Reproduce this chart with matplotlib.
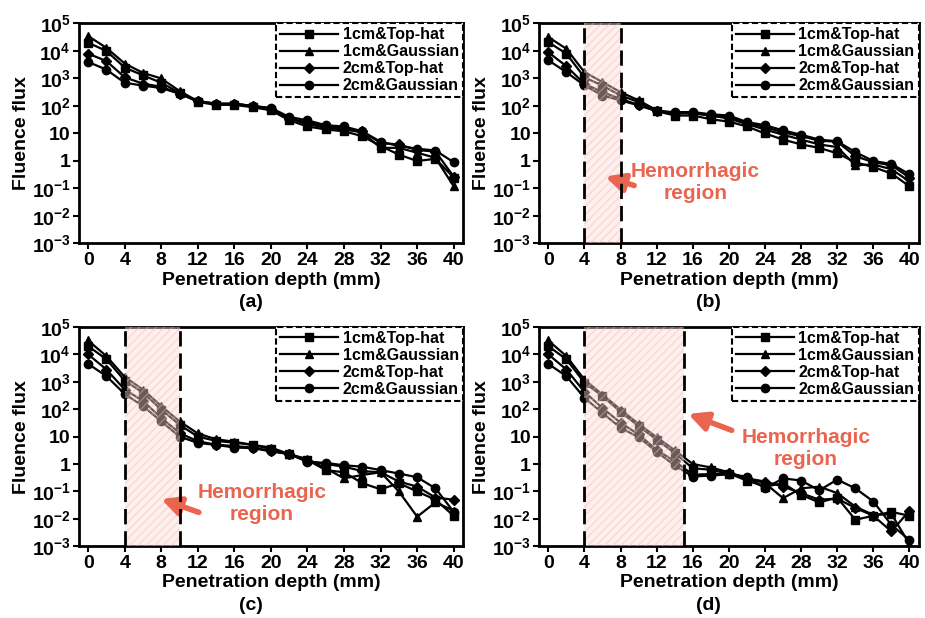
import matplotlib
matplotlib.use('Agg')
import matplotlib.pyplot as plt

plt.rcParams['font.family'] = ['Liberation Sans', 'DejaVu Sans']
plt.rcParams['font.weight'] = 'bold'
plt.rcParams['axes.labelweight'] = 'bold'
plt.rcParams['mathtext.fontset'] = 'custom'
plt.rcParams['mathtext.rm'] = 'Liberation Sans:bold'
plt.rcParams['mathtext.bf'] = 'Liberation Sans:bold'
plt.rcParams['mathtext.default'] = 'bf'
plt.rcParams['hatch.linewidth'] = 1.0

depth = list(range(0, 41, 2))
labels = ['1cm&Top-hat', '1cm&Gaussian', '2cm&Top-hat', '2cm&Gaussian']
markers = ['s', '^', 'D', 'o']
msizes = [5.5, 6, 4.8, 6]

# (a) no hemorrhage
a_th1 = [2e4, 1e4, 2.5e3, 1.3e3, 7e2, 3e2, 140, 110, 110, 90, 70, 30, 18, 14, 12, 8, 3.5, 1.7, 1.0, 1.2, 0.25]
a_g1 = [3.5e4, 1.3e4, 3.5e3, 1.6e3, 1.0e3, 3.5e2, 150, 120, 120, 100, 80, 35, 22, 16, 14, 11, 3.0, 3.0, 2.0, 1.3, 0.12]
a_th2 = [8e3, 4.3e3, 1.1e3, 6.5e2, 5e2, 2.8e2, 150, 120, 120, 100, 80, 35, 25, 18, 16, 12, 4.5, 4.0, 2.5, 2.2, 0.27]
a_g2 = [4e3, 2.1e3, 7e2, 5.5e2, 4.5e2, 2.8e2, 150, 120, 120, 100, 85, 40, 30, 20, 18, 12, 5, 3.5, 2.8, 2.4, 0.9]

# (b) region 4-8 mm
b_th1 = [2.1e4, 8e3, 1.1e3, 5.5e2, 2.4e2, 1.4e2, 65, 45, 45, 33, 27, 18, 10, 6, 4, 3, 1.9, 0.9, 0.6, 0.35, 0.12]
b_g1 = [3.2e4, 1.2e4, 1.7e3, 7.4e2, 3.2e2, 1.6e2, 70, 55, 55, 45, 35, 22, 14, 9, 6, 4, 3.2, 0.7, 0.75, 0.5, 0.18]
b_th2 = [9e3, 2.8e3, 6.4e2, 3.2e2, 1.8e2, 1.1e2, 65, 55, 55, 45, 38, 24, 17, 11, 8, 5.5, 5, 1.5, 0.9, 0.7, 0.25]
b_g2 = [4.6e3, 1.7e3, 5.6e2, 2.4e2, 1.6e2, 1.05e2, 65, 60, 60, 50, 45, 26, 20, 13, 9, 6, 5.2, 2.1, 1.0, 0.78, 0.33]

# (c) region 4-10 mm
c_th1 = [2e4, 6.6e3, 1.1e3, 4e2, 97, 27, 10, 7, 6, 5, 3.5, 2.3, 1.4, 0.6, 0.5, 0.2, 0.12, 0.2, 0.1, 0.05, 0.013]
c_g1 = [3.2e4, 8.6e3, 1.5e3, 5.2e2, 1.3e2, 36, 13, 8, 6.5, 5, 4, 2.3, 1.5, 0.7, 0.3, 0.4, 0.5, 0.1, 0.012, 0.04, 0.02]
c_th2 = [1e4, 2.8e3, 5.2e2, 2e2, 48, 13.6, 6.7, 5.1, 4.5, 4, 3, 2.3, 1.3, 1.0, 0.8, 0.55, 0.5, 0.23, 0.15, 0.06, 0.05]
c_g2 = [4.5e3, 1.6e3, 3.6e2, 1.3e2, 36, 10, 5.9, 5, 4, 3.8, 2.9, 2.3, 1.2, 1.1, 0.9, 0.8, 0.6, 0.45, 0.33, 0.13, 0.018]

# (d) region 4-15 mm
d_th1 = [2e4, 6.6e3, 9.3e2, 3e2, 80, 24, 7.8, 2.5, 0.7, 0.62, 0.45, 0.25, 0.15, 0.2, 0.075, 0.04, 0.06, 0.0093, 0.013, 0.018, 0.013]
d_g1 = [3.2e4, 8.6e3, 1.2e3, 3.4e2, 97, 29, 9.5, 3.2, 1.0, 0.75, 0.5, 0.3, 0.2, 0.057, 0.13, 0.15, 0.087, 0.028, 0.014, 0.015, 0.0012]
d_th2 = [1e4, 2.8e3, 4.3e2, 1.1e2, 32, 12, 3.3, 1.25, 0.41, 0.43, 0.47, 0.3, 0.23, 0.15, 0.087, 0.05, 0.055, 0.025, 0.013, 0.0035, 0.02]
d_g2 = [4.5e3, 1.6e3, 2.6e2, 73, 21, 9.5, 2.8, 0.89, 0.35, 0.38, 0.42, 0.35, 0.13, 0.3, 0.25, 0.11, 0.27, 0.13, 0.043, 0.006, 0.0017]

panels = [
    ('(a)', [a_th1, a_g1, a_th2, a_g2], None, None),
    ('(b)', [b_th1, b_g1, b_th2, b_g2], (4, 8), ((6.0, 0.29), (9.8, 0.12), (16.3, 0.17))),
    ('(c)', [c_th1, c_g1, c_th2, c_g2], (4, 10), ((7.7, 0.057), (12.4, 0.016), (19.0, 0.035))),
    ('(d)', [d_th1, d_g1, d_th2, d_g2], (4, 15), ((15.2, 73), (20.6, 15.6), (28.5, 3.8))),
]
positions = [
    [0.0854, 0.606, 0.415, 0.356],
    [0.583, 0.606, 0.41, 0.356],
    [0.0854, 0.116, 0.415, 0.355],
    [0.583, 0.116, 0.41, 0.355],
]
ytick_vals = [1e5, 1e4, 1e3, 1e2, 10, 1, 1e-1, 1e-2, 1e-3]
ytick_labels = [r'$10^{5}$', r'$10^{4}$', r'$10^{3}$', r'$10^{2}$', '10', '1',
                r'$10^{-1}$', r'$10^{-2}$', r'$10^{-3}$']
red = '#ea6550'

fig = plt.figure(figsize=(9.25, 6.18), dpi=100)

for (name, series, region, arrow), pos in zip(panels, positions):
    ax = fig.add_axes(pos)
    for y, m, ms, lab in zip(series, markers, msizes, labels):
        ax.plot(depth, y, color='black', marker=m, markersize=ms, linewidth=1.6, label=lab)
    ax.set_yscale('log')
    ax.set_ylim(1e-3, 1e5)
    ax.set_xlim(-1, 41)
    ax.set_yticks(ytick_vals)
    ax.set_yticklabels(ytick_labels)
    ax.minorticks_off()
    ax.set_xticks(range(0, 41, 4))
    ax.tick_params(labelsize=14, width=1.5, length=4, pad=2)
    for s in ax.spines.values():
        s.set_linewidth(2)
    ax.set_xlabel('Penetration depth (mm)', fontsize=14, labelpad=2)
    ax.set_ylabel('Fluence flux', fontsize=14, labelpad=1)

    if region is not None:
        ax.axvspan(region[0], region[1], facecolor=(0.99, 0.86, 0.84, 0.42),
                   edgecolor=(0.96, 0.72, 0.70, 0.42), hatch='////', linewidth=0, zorder=3)
        for xv in region:
            ax.axvline(xv, color='black', linewidth=2, linestyle=(0, (5.5, 2.5)), zorder=4)
        head, tail, txt = arrow
        ax.annotate('', xy=head, xytext=tail,
                    arrowprops=dict(arrowstyle='-|>', color=red, lw=4, mutation_scale=28))
        ax.text(txt[0], txt[1], 'Hemorrhagic\nregion', color=red, fontsize=15,
                ha='center', va='center', linespacing=1.2)

    leg = ax.legend(loc='upper right', fontsize=11.5, handlelength=3.6, labelspacing=0.12,
                    borderpad=0.25, handletextpad=0.3, borderaxespad=0, fancybox=False,
                    framealpha=1, edgecolor='black')
    leg.get_frame().set_linestyle((0, (3, 1.5)))
    leg.get_frame().set_linewidth(1.5)

    fig.text(pos[0] + pos[2] / 2 - 0.022, pos[1] - 0.095, name, fontsize=14, ha='center', va='center')

fig.savefig('out.png', dpi=100)
